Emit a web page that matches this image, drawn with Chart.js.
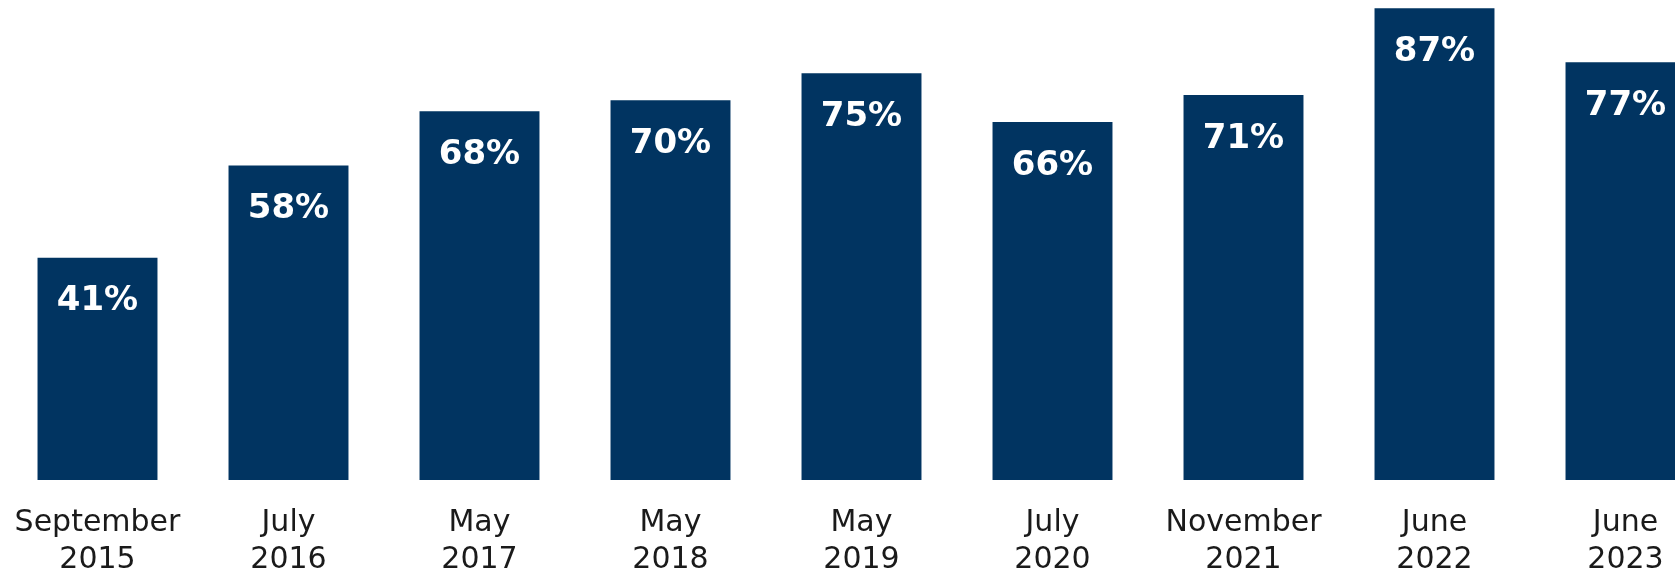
<!DOCTYPE html>
<html>
<head>
<meta charset="utf-8">
<script src="https://cdn.jsdelivr.net/npm/chart.js@4.4.1/dist/chart.umd.min.js"></script>
<style>
  html, body { margin: 0; padding: 0; background: #ffffff; overflow: hidden; }
  #wrap { width: 1675px; height: 571px; overflow: hidden; }
</style>
</head>
<body>
<div id="wrap">
  <canvas id="surveyChart" width="1722" height="603"></canvas>
</div>
<script>
// survey waves (two-line tick labels)
const waves = [
    ['September', '2015'],
    ['July', '2016'],
    ['May', '2017'],
    ['May', '2018'],
    ['May', '2019'],
    ['July', '2020'],
    ['November', '2021'],
    ['June', '2022'],
    ['June', '2023']
];
const shares = [41, 58, 68, 70, 75, 66, 71, 87, 77];

// draws the white % text inside the top of each bar
const barValueLabels = {
    id: 'barValueLabels',
    afterDatasetsDraw(chart) {
        const ctx = chart.ctx;
        const meta = chart.getDatasetMeta(0);
        ctx.save();
        ctx.fillStyle = '#ffffff';
        ctx.font = 'bold 34px "DejaVu Sans"';
        ctx.textAlign = 'center';
        ctx.textBaseline = 'middle';
        meta.data.forEach((bar, i) => {
            ctx.fillText(shares[i] + '%', bar.x, bar.y + 44);
        });
        ctx.restore();
    }
};

new Chart(document.getElementById('surveyChart'), {
    type: 'bar',
    data: {
        labels: waves,
        datasets: [{
            data: shares,
            backgroundColor: '#013461',
            borderWidth: 0,
            categoryPercentage: 1,
            barPercentage: 0.628
        }]
    },
    options: {
        responsive: false,
        animation: false,
        layout: {
            padding: { left: 2, right: 1, top: 0, bottom: 0 }
        },
        plugins: {
            legend: { display: false },
            tooltip: { enabled: false }
        },
        scales: {
            y: {
                display: false,
                min: 0,
                max: 88.5
            },
            x: {
                grid: { display: false, drawTicks: false },
                border: { display: false },
                // labels fit inside their categories, no extra side padding
                afterFit(scale) {
                    scale.paddingLeft = 0;
                    scale.paddingRight = 0;
                },
                ticks: {
                    color: '#1a1a1a',
                    padding: 24,
                    maxRotation: 0,
                    autoSkip: false,
                    font: { family: '"DejaVu Sans"', size: 30, lineHeight: 1.25 }
                }
            }
        }
    },
    plugins: [barValueLabels]
});
</script>
</body>
</html>
